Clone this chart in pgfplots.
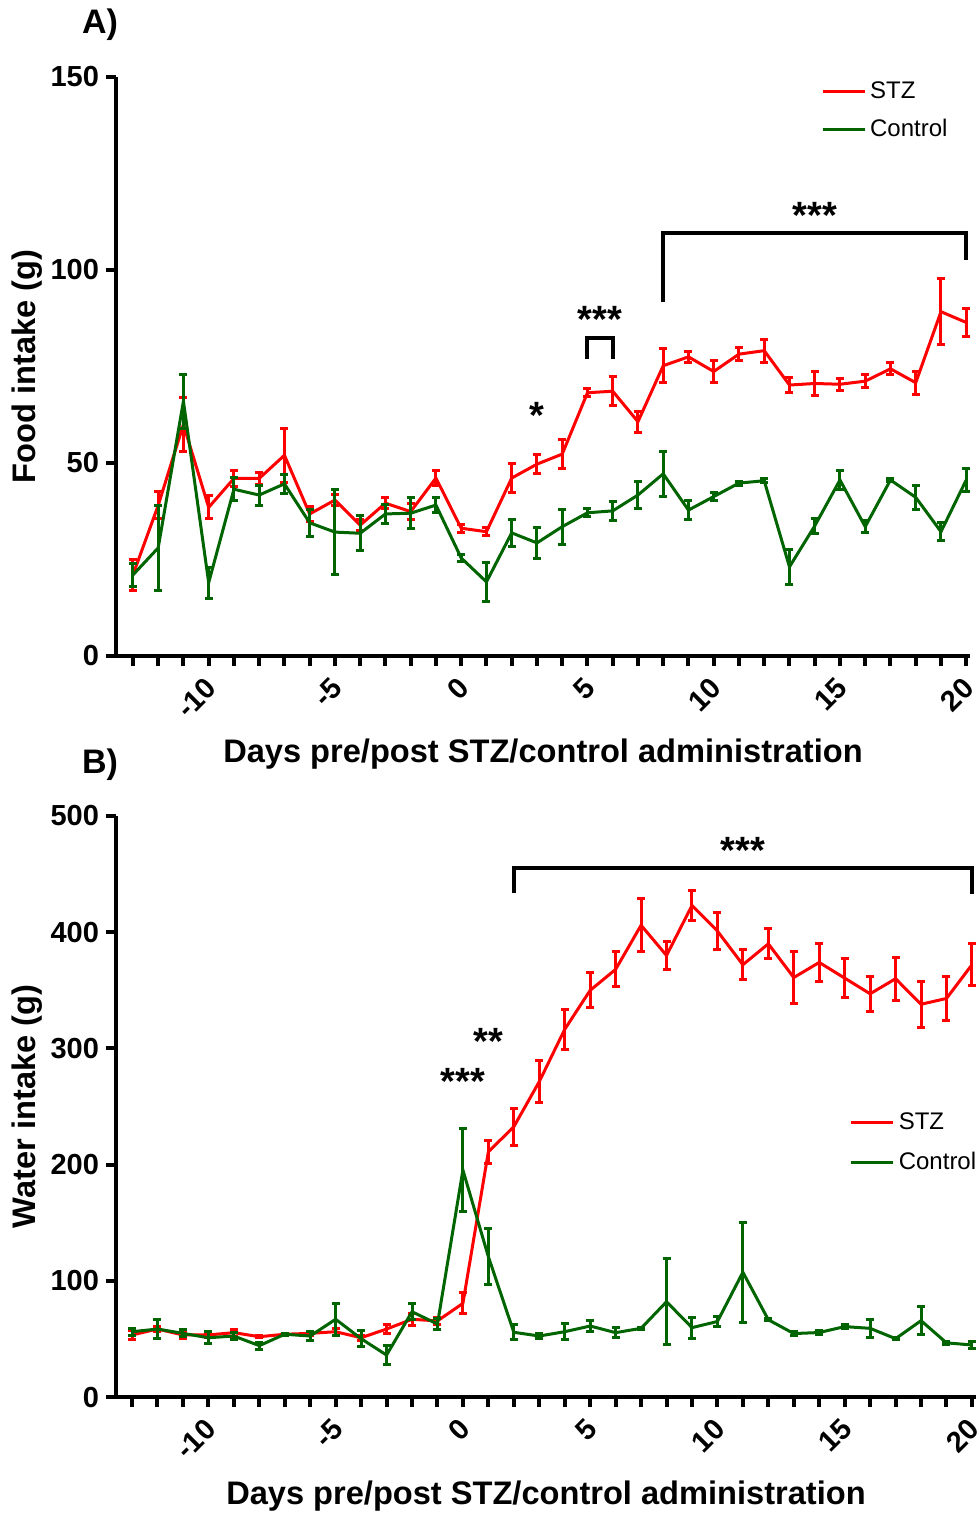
\documentclass[border=0pt]{standalone}
\usepackage{fontspec}
\setmainfont{Liberation Sans}
\usepackage{pgfplots}
\pgfplotsset{compat=1.18}
\usepackage{pgfplotstable}

\definecolor{stz}{RGB}{255,0,0}
\definecolor{ctl}{RGB}{0,100,0}

\pgfplotstableread{
d m e
-13 21 4
-12 39 3.5
-11 60 7
-10 38.5 3
-9 46 2
-8 46 1.5
-7 52 7
-6 36.8 2
-5 40.4 1.5
-4 33.9 1.5
-3 39.6 1.5
-2 37.4 2
-1 46.1 2
0 33.1 1
1 32.2 1
2 46.1 3.8
3 49.7 2.5
4 52.3 3.8
5 68.2 1
6 68.6 3.8
7 60.7 2.7
8 75.2 4.4
9 77.5 1.5
10 73.7 2.8
11 78.2 1.6
12 79.1 3
13 70.2 2
14 70.6 3.1
15 70.4 1.6
16 71.2 1.7
17 74.4 1.6
18 70.8 3
19 89.2 8.5
20 86.4 3.7
}\foodstz

\pgfplotstableread{
d m e
-13 21 3
-12 28 11
-11 66 7
-10 19 4
-9 43.2 3
-8 41.7 2.6
-7 44.6 2.5
-6 34.5 3.5
-5 32.1 11
-4 31.8 4.5
-3 36.8 2.5
-2 37 4
-1 39.1 2
0 25.4 1
1 19.2 5
2 31.9 3.5
3 29.3 4
4 33.5 4.5
5 37.1 1
6 37.6 2.5
7 41.7 3.6
8 47.2 5.9
9 37.8 2.5
10 41.3 1
11 44.8 0.5
12 45.4 0.5
13 23.1 4.5
14 33.7 2
15 45.6 2.5
16 33.5 1.5
17 45.6 0.5
18 41.1 3.2
19 32.2 2.4
20 45.6 3
}\foodctl

\pgfplotstableread{
d m e
-13 53.4 4
-12 58.5 2
-11 53.4 3
-10 53.4 2
-9 55.4 3
-8 51.9 1
-7 54 1
-6 54.8 2
-5 56.2 3
-4 51 2
-3 58.5 4
-2 66.9 5
-1 65.5 3
0 80.6 9
1 211 10
2 232.6 15.8
3 271.4 18
4 316.4 17.5
5 350 15
6 368 15
7 406 23
8 380 12
9 423 13
10 401 16
11 372 13
12 390 13
13 361 22.5
14 374 16
15 360.5 17
16 347 15
17 360 18.5
18 338 19.6
19 343 18.8
20 372 18
}\waterstz

\pgfplotstableread{
d m e
-13 56.2 3
-12 58.5 8.3
-11 54.8 3
-10 51 5
-9 52.5 3
-8 44.2 3
-7 54 1
-6 52.5 4
-5 66.9 13.6
-4 50.2 7
-3 36.1 8
-2 73.4 7
-1 62.8 4.6
0 195.3 36
1 120.8 24
2 55.7 6.5
3 52.5 2
4 56.2 7
5 61.1 5
6 55.4 4
7 59.1 1
8 82 37
9 59.7 9
10 65 4
11 107.4 43
12 66.5 1
13 54.6 2
14 55.5 2
15 60.6 2
16 59.1 8
17 50.2 1
18 65.7 12
19 46.6 1
20 44.8 3
}\waterctl

\tikzset{stars/.style={font=\bfseries\fontsize{19}{21}\selectfont}}

\pgfplotsset{
  myaxis/.style={
    scale only axis, clip=false,
    axis x line*=bottom, axis y line*=left,
    axis line style={line width=2pt,-},
    tick align=outside,
    major tick length=5pt, minor tick length=5pt,
    tick style={line width=2pt, black},
    minor xtick={-13,...,20},
    xtick={-10,-5,0,5,10,15,20},
    xticklabels={-10,-5,0,5,10,15,20},
    ticklabel style={font=\bfseries\fontsize{14.5}{16}\selectfont},
    xticklabel style={rotate=45, anchor=north east, xshift=-1.8pt, yshift=1.8pt},
    label style={font=\bfseries\fontsize{16.3}{18}\selectfont},
    legend style={draw=none, fill=none, font=\fontsize{12}{14}\selectfont, row sep=5pt, cells={anchor=west}},
    legend image code/.code={\draw[#1, line width=1.5pt] (0pt,0pt) -- (16pt,0pt); \path (0pt,0pt) -- (21pt,0pt);},
    /pgf/number format/assume math mode=true,
  },
  stzline/.style={stz, line width=1.5pt, mark=none,
    error bars/.cd, y dir=both, y explicit,
    error bar style={line width=1.5pt, stz},
    error mark options={rotate=90, stz, line width=1.5pt, mark size=2pt}},
  ctlline/.style={ctl, line width=1.5pt, mark=none,
    error bars/.cd, y dir=both, y explicit,
    error bar style={line width=1.5pt, ctl},
    error mark options={rotate=90, ctl, line width=1.5pt, mark size=2pt}},
}

\begin{document}
\begin{tikzpicture}
\useasboundingbox (0,0) rectangle (489.5pt,-756.5pt);

\node[font=\bfseries\fontsize{17}{19}\selectfont] at (50pt,-12.5pt) {A)};
\node[font=\bfseries\fontsize{17}{19}\selectfont] at (50pt,-382.5pt) {B)};

\begin{axis}[myaxis,
  at={(58pt,-328pt)}, anchor=south west,
  width=427pt, height=289.5pt,
  xmin=-13.67, xmax=20.15, ymin=0, ymax=150,
  ytick={0,50,100,150},
  xlabel={Days pre/post STZ/control administration},
  ylabel={Food intake (g)},
  xlabel style={at={(axis description cs:0.5,-0.169)}, anchor=center},
  ylabel style={at={(axis description cs:-0.104,0.5)}, anchor=center},
  legend style={at={(axis cs:14.0,151)}, anchor=north west},
]
\addplot[stzline] table[x=d, y=m, y error=e] {\foodstz};
\addlegendentry{STZ}
\addplot[ctlline] table[x=d, y=m, y error=e] {\foodctl};
\addlegendentry{Control}
\draw[line width=2pt] (axis cs:8,91.8) -- (axis cs:8,109.5) -- (axis cs:20,109.5) -- (axis cs:20,102.6);
\node[stars] at (axis cs:14,114.2) {***};
\draw[line width=2pt] (axis cs:5,76.9) -- (axis cs:5,82.3) -- (axis cs:6,82.3) -- (axis cs:6,76.9);
\node[stars] at (axis cs:5.5,87.2) {***};
\node[stars] at (axis cs:3,62.4) {*};
\end{axis}

\begin{axis}[myaxis,
  at={(58pt,-698.5pt)}, anchor=south west,
  width=430pt, height=290.5pt,
  xmin=-13.63, xmax=20.16, ymin=0, ymax=500,
  ytick={0,100,200,300,400,500},
  xlabel={Days pre/post STZ/control administration},
  ylabel={Water intake (g)},
  xlabel style={at={(axis description cs:0.5,-0.170)}, anchor=center},
  ylabel style={at={(axis description cs:-0.1035,0.5)}, anchor=center},
  legend style={at={(axis cs:14.95,252)}, anchor=north west, row sep=6pt},
]
\addplot[stzline] table[x=d, y=m, y error=e] {\waterstz};
\addlegendentry{STZ}
\addplot[ctlline] table[x=d, y=m, y error=e] {\waterctl};
\addlegendentry{Control}
\draw[line width=2pt] (axis cs:2,433.7) -- (axis cs:2,455) -- (axis cs:20,455) -- (axis cs:20,433);
\node[stars] at (axis cs:11,470.7) {***};
\node[stars] at (axis cs:1,305.8) {**};
\node[stars] at (axis cs:0,272) {***};
\end{axis}
\end{tikzpicture}
\end{document}
